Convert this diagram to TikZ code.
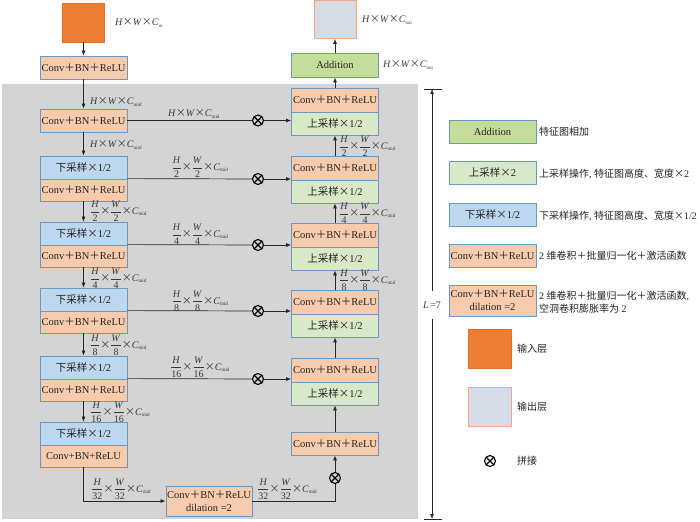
\documentclass[tikz,border=0pt]{standalone}
\usepackage{fontspec}
\setmainfont{Liberation Serif}
\newfontfamily\cjk{Noto Sans CJK SC}
\usetikzlibrary{arrows.meta}
\definecolor{bgc}{HTML}{D4D4D4}
\definecolor{bordc}{HTML}{6A98C2}
\definecolor{convc}{HTML}{F8CBAD}
\definecolor{dsc}{HTML}{BDD7EE}
\definecolor{upc}{HTML}{D9E9C8}
\definecolor{addc}{HTML}{C4DD9A}
\definecolor{inc}{HTML}{ED7D31}
\definecolor{outc}{HTML}{D6DCE5}
\definecolor{outb}{HTML}{F0A880}
\definecolor{txt}{HTML}{222222}
\definecolor{labc}{HTML}{383838}
\newcommand\zh[1]{{\cjk #1}}
\newcommand\fr[2]{$\displaystyle\frac{\mbox{\textit{#1}}}{\mbox{#2}}$}
\newcommand\tms{{\cjk ×}}
\newcommand\Cs[1]{\textit{C}\textsubscript{\fontsize{5}{6}\selectfont #1}}
\newcommand\HWC[1]{\textit{H}\tms\textit{W}\tms\Cs{#1}}
\newcommand\FWC[1]{\fr{H}{#1}\tms\fr{W}{#1}\tms\Cs{mid}}
\newcommand\cbr{Conv\zh{＋}BN\zh{＋}ReLU}
\begin{document}
\begin{tikzpicture}[x=1pt,y=-1pt,
  box/.style={draw=bordc, line width=0.8pt, minimum width=87pt, inner sep=0pt,
    font=\fontsize{10.5}{12}\selectfont, text=txt},
  convbox/.style={box, fill=convc},
  dsbox/.style={box, fill=dsc},
  upbox/.style={box, fill=upc},
  addbox/.style={box, fill=addc},
  lab/.style={inner sep=0pt, font=\fontsize{10}{11}\selectfont, text=labc},
  legtxt/.style={inner sep=0pt, anchor=west, font=\fontsize{10}{13}\selectfont, text=txt, align=left},
  insq/.style={fill=inc, draw=inc!92!black, line width=0.5pt, minimum width=42pt, minimum height=39pt, inner sep=0pt},
  outsq/.style={fill=outc, draw=outb, line width=0.8pt, minimum width=42pt, minimum height=38pt, inner sep=0pt},
  ox/.style={circle, draw, line width=1.1pt, minimum size=11pt, inner sep=0pt,
    path picture={\draw[line width=1.1pt] (path picture bounding box.north west) -- (path picture bounding box.south east)
      (path picture bounding box.north east) -- (path picture bounding box.south west);}},
  ln/.style={line width=0.7pt, draw=black!85},
  arr/.style={ln, -{Latex[length=5pt,width=4pt]}}
]
\useasboundingbox (0,0) rectangle (700,521);
\fill[bgc] (2,84) rectangle (418,519);

% input / output
\node[insq] (in) at (83.5,22.5) {};
\node[outsq] (out) at (335,19.5) {};
\node[lab, anchor=west] at (115,23) {\HWC{in}};
\node[lab, anchor=west] at (362,20) {\HWC{out}};

% left column
\node[convbox, minimum height=23pt] (conv1) at (83.5,67.5) {\cbr};
\node[convbox, minimum height=23pt] (conv2) at (83.5,120.5) {\cbr};
\node[dsbox, minimum height=23pt] (ds2) at (83.5,167.5) {\zh{下采样×}1/2};
\node[convbox, minimum height=22pt] (lc2) at (83.5,190) {\cbr};
\node[dsbox, minimum height=23pt] (ds3) at (83.5,233.5) {\zh{下采样×}1/2};
\node[convbox, minimum height=22pt] (lc3) at (83.5,256) {\cbr};
\node[dsbox, minimum height=23pt] (ds4) at (83.5,299.5) {\zh{下采样×}1/2};
\node[convbox, minimum height=22pt] (lc4) at (83.5,322) {\cbr};
\node[dsbox, minimum height=23pt] (ds5) at (83.5,367.5) {\zh{下采样×}1/2};
\node[convbox, minimum height=22pt] (lc5) at (83.5,390) {\cbr};
\node[dsbox, minimum height=23pt] (ds6) at (83.5,433.5) {\zh{下采样×}1/2};
\node[convbox, minimum height=22pt] (lc6) at (83.5,456) {Conv+BN+ReLU};
\node[convbox, minimum width=86pt, minimum height=30pt, align=center, font=\fontsize{10.5}{13}\selectfont] (dil) at (209,501) {\cbr\\dilation =2};

% right column
\node[addbox, minimum height=24pt] (add) at (335,65) {Addition};
\node[lab, anchor=west] at (383,65) {\HWC{out}};
\node[convbox, minimum height=24pt] (rc1) at (335,100) {\cbr};
\node[upbox, minimum height=23pt] (up1) at (335,123.5) {\zh{上采样×}1/2};
\node[convbox, minimum height=24pt] (rc2) at (335,168) {\cbr};
\node[upbox, minimum height=23pt] (up2) at (335,191.5) {\zh{上采样×}1/2};
\node[convbox, minimum height=24pt] (rc3) at (335,235) {\cbr};
\node[upbox, minimum height=23pt] (up3) at (335,258.5) {\zh{上采样×}1/2};
\node[convbox, minimum height=24pt] (rc4) at (335,302) {\cbr};
\node[upbox, minimum height=23pt] (up4) at (335,325.5) {\zh{上采样×}1/2};
\node[convbox, minimum height=24pt] (rc5) at (335,370) {\cbr};
\node[upbox, minimum height=23pt] (up5) at (335,393.5) {\zh{上采样×}1/2};
\node[convbox, minimum height=23pt] (rcx) at (335,443.5) {\cbr};
\node[ox] (x6) at (335,478) {};

% vertical arrows left
\draw[arr] (in) -- (conv1);
\draw[arr] (conv1) -- (conv2);
\draw[arr] (conv2) -- (ds2);
\draw[arr] (lc2) -- (ds3);
\draw[arr] (lc3) -- (ds4);
\draw[arr] (lc4) -- (ds5);
\draw[arr] (lc5) -- (ds6);
\draw[arr] (lc6.south) |- (dil.west);
\draw[ln] (dil.east) -| (x6.south);
% vertical arrows right
\draw[arr] (x6) -- (rcx);
\draw[arr] (rcx) -- (up5);
\draw[arr] (rc5) -- (up4);
\draw[arr] (rc4) -- (up3);
\draw[arr] (rc3) -- (up2);
\draw[arr] (rc2) -- (up1);
\draw[arr] (rc1) -- (add);
\draw[arr] (add) -- (out);

% skip connections
\node[ox] (x1) at (258,120.5) {};
\node[ox] (x2) at (258,179) {};
\node[ox] (x3) at (258,245) {};
\node[ox] (x4) at (258,311) {};
\node[ox] (x5) at (258,379) {};
\draw[ln] (conv2.east) -- (x1);
\draw[arr] (x1) -- (x1 -| up1.west);
\draw[ln] (lc2.north east) -- (x2);
\draw[arr] (x2) -- (x2 -| rc2.west);
\draw[ln] (lc3.north east) -- (x3);
\draw[arr] (x3) -- (x3 -| rc3.west);
\draw[ln] (lc4.north east) -- (x4);
\draw[arr] (x4) -- (x4 -| rc4.west);
\draw[ln] (lc5.north east) -- (x5);
\draw[arr] (x5) -- (x5 -| rc5.west);

% labels left vertical
\node[lab, anchor=west] at (90,102) {\HWC{mid}};
\node[lab, anchor=west] at (90,145) {\HWC{mid}};
\node[lab, anchor=west] at (90,211) {\FWC{2}};
\node[lab, anchor=west] at (90,278) {\FWC{4}};
\node[lab, anchor=west] at (90,345) {\FWC{8}};
\node[lab, anchor=west] at (90,412) {\FWC{16}};
\node[lab, anchor=west] at (91,489) {\FWC{32}};
\node[lab, anchor=west] at (257,489) {\FWC{32}};
% labels right vertical
\node[lab, anchor=west] at (339,146) {\FWC{2}};
\node[lab, anchor=west] at (339,213) {\FWC{4}};
\node[lab, anchor=west] at (339,280) {\FWC{8}};
% skip labels
\node[lab] at (194,114) {\HWC{mid}};
\node[lab] at (200,167) {\FWC{2}};
\node[lab] at (200,234) {\FWC{4}};
\node[lab] at (200,301) {\FWC{8}};
\node[lab] at (200,367) {\FWC{16}};

% L arrow
\node[lab, minimum height=28pt] (Llab) at (432,305) {\textit{L}\,=7};
\coordinate (Ltop) at (432,89);
\coordinate (Lbot) at (432,519);
\draw[arr] (Llab) -- (Ltop);
\draw[arr] (Llab) -- (Lbot);
\draw[ln] ([xshift=-8pt]Ltop) -- ([xshift=10pt]Ltop);
\draw[ln] ([xshift=-8pt]Lbot) -- ([xshift=10pt]Lbot);

% legend
\node[addbox, minimum height=23pt] (lgadd) at (492.5,131.5) {Addition};
\node[legtxt] at (539,132) {\zh{特征图相加}};
\node[upbox, minimum height=23pt] (lgup) at (492.5,172.5) {\zh{上采样×}2};
\node[legtxt] at (539,174) {\zh{上采样操作}, \zh{特征图高度、宽度×}2};
\node[dsbox, minimum height=23pt] (lgds) at (492.5,214.5) {\zh{下采样×}1/2};
\node[legtxt] at (539,216) {\zh{下采样操作}, \zh{特征图高度、宽度×}1/2};
\node[convbox, minimum height=23pt] (lgconv) at (492.5,255.5) {\cbr};
\node[legtxt] at (539,256) {2 \zh{维卷积＋批量归一化＋激活函数}};
\node[convbox, minimum height=31pt, align=center, font=\fontsize{10.5}{13}\selectfont] (lgdil) at (492.5,300.5) {\cbr\\dilation =2};
\node[legtxt] at (539,302.5) {2 \zh{维卷积＋批量归一化＋激活函数}, \\ \zh{空洞卷积膨胀率为} 2};
\node[insq, minimum width=43pt] (lgin) at (489.5,348.5) {};
\node[legtxt] at (517,349) {\zh{输入层}};
\node[outsq, minimum width=43pt, minimum height=39pt] (lgout) at (489.5,406.5) {};
\node[legtxt] at (517,407) {\zh{输出层}};
\node[ox] (lgx) at (490,461) {};
\node[legtxt] at (517,461) {\zh{拼接}};
\end{tikzpicture}
\end{document}
